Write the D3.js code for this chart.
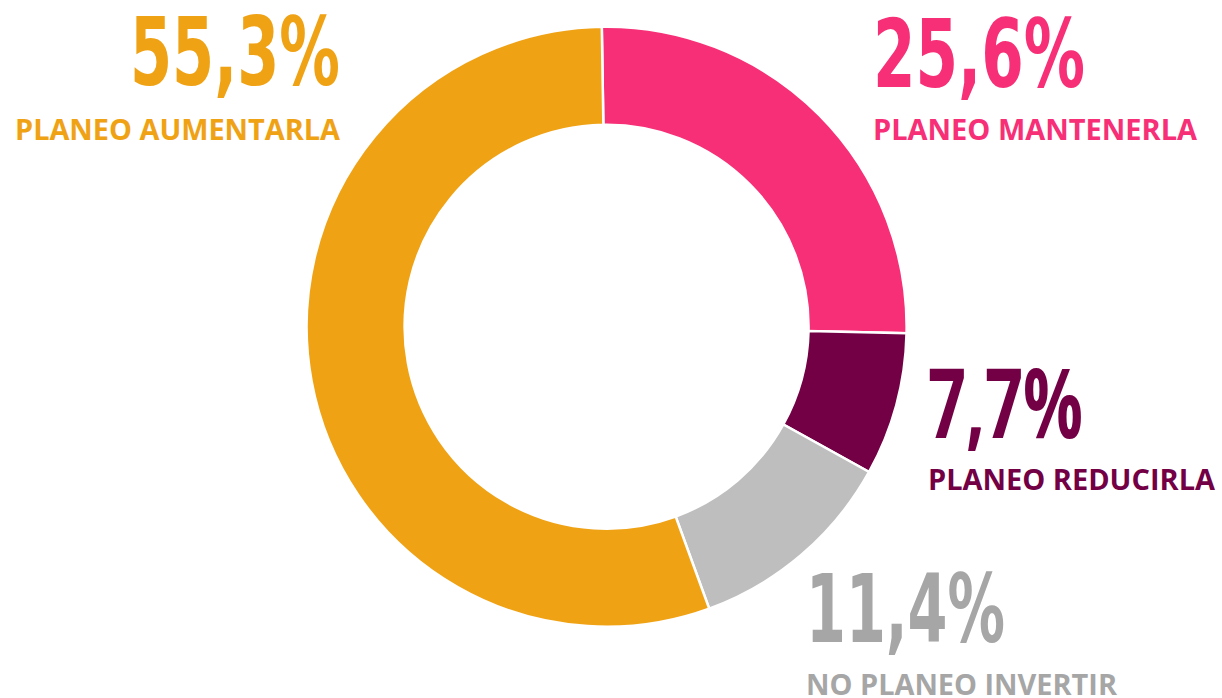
<!DOCTYPE html>
<html>
<head>
<meta charset="utf-8">
<script src="https://cdn.jsdelivr.net/npm/d3@7"></script>
<style>
  html, body { margin: 0; padding: 0; background: #fff; }
  svg { display: block; }
</style>
</head>
<body>
<div id="chart"></div>
<script>
// data
const categories = ['PLANEO MANTENERLA', 'PLANEO REDUCIRLA', 'NO PLANEO INVERTIR', 'PLANEO AUMENTARLA'];
const values = [25.6, 7.7, 11.4, 55.3];
const valueLabels = ['25,6%', '7,7%', '11,4%', '55,3%'];
const colors = ['#f72f77', '#730044', '#bebebe', '#f0a215'];
const textColors = ['#f72f77', '#730044', '#a6a6a6', '#f0a215'];

// label layout: anchor x, value baseline, name baseline, widths
const labelLayout = [
  { x: 873, anchor: 'start', yv: 87, yn: 140, wv: 212, wn: 324, condensed: true },
  { x: 928, anchor: 'start', yv: 438, yn: 490, wv: 155, wn: 287, condensed: false },
  { x: 806, anchor: 'start', yv: 642, yn: 695, wv: 199, wn: 311, condensed: true },
  { x: 340, anchor: 'end', yv: 85, yn: 140, wv: 210, wn: 325, condensed: true }
];

const width = 1222, height = 698;
const cx = 606.6, cy = 326.7;
const outerR = 300, innerR = 202;
// the ring starts a hair before 12 o'clock
const startAngle = -0.016;

const svg = d3.select('#chart')
  .append('svg')
  .attr('width', width)
  .attr('height', height);

const pie = d3.pie()
  .sort(null)
  .value(d => d)
  .startAngle(startAngle)
  .endAngle(startAngle + 2 * Math.PI);
const arc = d3.arc().innerRadius(innerR).outerRadius(outerR);

svg.append('g')
  .attr('transform', `translate(${cx},${cy})`)
  .selectAll('path')
  .data(pie(values))
  .join('path')
  .attr('d', arc)
  .attr('fill', (d, i) => colors[i])
  .attr('stroke', '#fff')
  .attr('stroke-width', 2.5);

const labels = svg.append('g')
  .selectAll('g')
  .data(categories)
  .join('g');

labels.append('text')
  .attr('x', (d, i) => labelLayout[i].x)
  .attr('y', (d, i) => labelLayout[i].yv)
  .attr('text-anchor', (d, i) => labelLayout[i].anchor)
  .attr('fill', (d, i) => textColors[i])
  .style('font-family', (d, i) => labelLayout[i].condensed
    ? '"Liberation Sans Narrow", "DejaVu Sans Condensed", sans-serif'
    : '"Open Sans", "Liberation Sans", sans-serif')
  .style('font-weight', 'bold')
  .style('font-size', (d, i) => labelLayout[i].condensed ? '94px' : '96px')
  .attr('textLength', (d, i) => labelLayout[i].wv)
  .attr('lengthAdjust', 'spacingAndGlyphs')
  .text((d, i) => valueLabels[i]);

labels.append('text')
  .attr('x', (d, i) => labelLayout[i].x)
  .attr('y', (d, i) => labelLayout[i].yn)
  .attr('text-anchor', (d, i) => labelLayout[i].anchor)
  .attr('fill', (d, i) => textColors[i])
  .style('font-family', '"Open Sans", "Liberation Sans", sans-serif')
  .style('font-weight', 'bold')
  .style('font-size', '28px')
  .attr('textLength', (d, i) => labelLayout[i].wn)
  .attr('lengthAdjust', 'spacingAndGlyphs')
  .text(d => d);
</script>
</body>
</html>
